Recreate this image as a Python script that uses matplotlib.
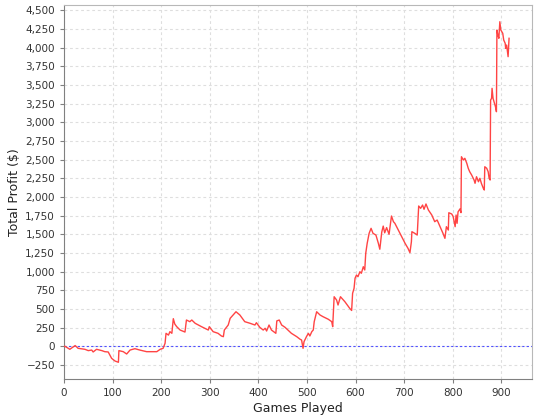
import matplotlib
matplotlib.use("Agg")
import matplotlib.pyplot as plt
from matplotlib.ticker import FuncFormatter, MultipleLocator

# cumulative profit
games = [0, 2, 12, 23, 29, 43, 50, 57, 60, 67, 78, 84, 91, 98, 105, 112, 113, 122, 129, 136,
         146, 156, 170, 191, 198, 204, 208, 210, 215, 218, 222, 225, 228, 232, 239, 249, 252,
         259, 263, 270, 283, 297, 299, 307, 317, 324, 328, 330, 338, 342, 348, 354, 362, 372,
         383, 393, 396, 403, 410, 414, 417, 422, 427, 436, 438, 443, 448, 455, 461, 468, 479,
         486, 489, 492, 494, 499, 503, 506, 510, 513, 515, 520, 527, 533, 544, 551, 553, 556,
         561, 564, 569, 578, 588, 592, 594, 597, 599, 602, 605, 609, 612, 616, 619, 621, 624,
         628, 632, 636, 642, 647, 650, 654, 657, 660, 664, 669, 674, 678, 681, 688, 695, 702,
         708, 712, 715, 716, 722, 727, 730, 734, 738, 741, 745, 750, 757, 763, 768, 774, 780,
         784, 787, 791, 792, 798, 801, 805, 807, 809, 811, 815, 817, 818, 822, 825, 829, 832,
         835, 839, 844, 846, 849, 853, 856, 859, 863, 865, 866, 870, 873, 875, 877, 878, 880,
         881, 883, 885, 888, 890, 891, 893, 895, 897, 899, 903, 905, 908, 909, 911, 914, 916]
profit = [0, 0, -40, 10, -27, -40, -58, -50, -76, -40, -58, -72, -76, -161, -197, -214, -58, -72,
          -103, -50, -32, -50, -72, -72, -40, -27, 40, 174, 150, 196, 174, 370, 299, 263, 218,
          191, 352, 330, 352, 308, 263, 218, 263, 196, 174, 138, 129, 218, 285, 375, 419, 463,
          419, 330, 308, 285, 316, 254, 218, 241, 205, 285, 218, 174, 340, 352, 285, 254, 218,
          174, 129, 94, 84, -27, 62, 129, 174, 138, 196, 218, 330, 463, 419, 397, 362, 330,
          263, 664, 620, 553, 664, 598, 509, 480, 710, 777, 911, 955, 932, 999, 978, 1066, 1022,
          1245, 1379, 1513, 1580, 1513, 1490, 1379, 1300, 1530, 1610, 1520, 1590, 1500, 1745,
          1669, 1647, 1557, 1468, 1379, 1312, 1254, 1401, 1535, 1513, 1490, 1879, 1848, 1892,
          1835, 1906, 1825, 1758, 1669, 1691, 1602, 1513, 1446, 1602, 1557, 1789, 1772, 1736,
          1602, 1758, 1647, 1800, 1840, 1790, 2539, 2495, 2518, 2451, 2384, 2338, 2294, 2227,
          2183, 2271, 2204, 2250, 2183, 2116, 2093, 2405, 2384, 2338, 2250, 2227, 3298, 3321,
          3455, 3321, 3276, 3209, 3142, 4236, 4169, 4125, 4347, 4236, 4192, 4102, 4058, 3991,
          4035, 3879, 4125]

plt.rcParams['font.family'] = ['DejaVu Sans']

fig = plt.figure(figsize=(5.4, 4.2), dpi=100)
ax = fig.add_axes([0.1185, 0.0976, 0.8665, 0.8905])

ax.plot(games, profit, color='#ff4444', lw=1.0, zorder=3)
ax.axhline(0, color='#5050ff', lw=0.8, ls=(0, (2, 2)), zorder=2)

ax.set_xlim(0, 963)
ax.set_ylim(-438, 4571)
ax.xaxis.set_major_locator(MultipleLocator(100))
ax.yaxis.set_major_locator(MultipleLocator(250))
ax.yaxis.set_major_formatter(FuncFormatter(lambda v, p: f"{int(v):,}".replace('-', '\u2212')))

# light dashed grid like the original
ax.grid(True, color='#dedede', ls=(0, (2.5, 2.5)), lw=0.8)
ax.set_axisbelow(True)

for side in ['top', 'right']:
    ax.spines[side].set_color('#b8b8b8')
for side in ['left', 'bottom']:
    ax.spines[side].set_color('#808080')
ax.tick_params(colors='#808080', labelcolor='#333333', labelsize=7.5, length=3, width=0.8)

ax.set_xlabel("Games Played", fontsize=9, color='#222222', labelpad=3)
ax.set_ylabel("Total Profit ($)", fontsize=9, color='#222222', labelpad=3)

fig.savefig("out.png", dpi=100)
